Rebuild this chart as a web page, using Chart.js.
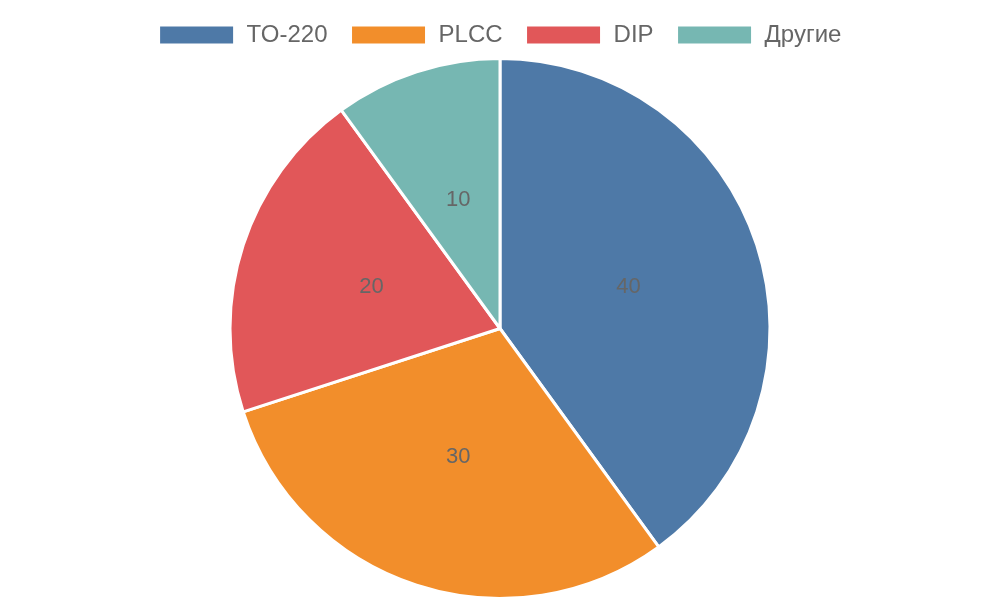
<!DOCTYPE html>
<html><head><meta charset="utf-8">
<script src="https://cdn.jsdelivr.net/npm/chart.js@4"></script>
<style>html,body{margin:0;padding:0;background:#fff}#w{width:1000px;height:600px}</style>
</head><body><div id="w"><canvas id="c"></canvas></div>
<script>
const categories = ["TO-220", "PLCC", "DIP", "Другие"];
const values = [40, 30, 20, 10];
const colors = ["#4e79a7", "#f28e2b", "#e15759", "#76b7b2"];

const labelPlugin = {
  id: 'inlabels',
  afterDatasetsDraw(chart) {
    const ctx = chart.ctx;
    const meta = chart.getDatasetMeta(0);
    ctx.save();
    ctx.font = '22px "Liberation Sans", Arial, sans-serif';
    ctx.fillStyle = '#666';
    ctx.textAlign = 'center';
    ctx.textBaseline = 'middle';
    meta.data.forEach((arc, i) => {
      const p = arc.getProps(['x','y','startAngle','endAngle','outerRadius'], true);
      const a = (p.startAngle + p.endAngle) / 2;
      const r = p.outerRadius / 2;
      ctx.fillText(String(values[i]), p.x + Math.cos(a) * r, p.y + Math.sin(a) * r);
    });
    ctx.restore();
  }
};

new Chart(document.getElementById('c'), {
  type: 'pie',
  data: { labels: categories, datasets: [{ data: values, backgroundColor: colors, borderColor: '#fff', borderWidth: 3 }] },
  options: {
    responsive: true, maintainAspectRatio: false, animation: false,
    layout: { padding: { top: 0, bottom: 0 } },
    plugins: {
      legend: { position: 'top', labels: { boxWidth: 76, boxHeight: 20, padding: 23, color: '#666', font: { size: 24, family: '"Liberation Sans", Arial, sans-serif' } } },
      tooltip: { enabled: false }
    }
  },
  plugins: [labelPlugin]
});
</script></body></html>
